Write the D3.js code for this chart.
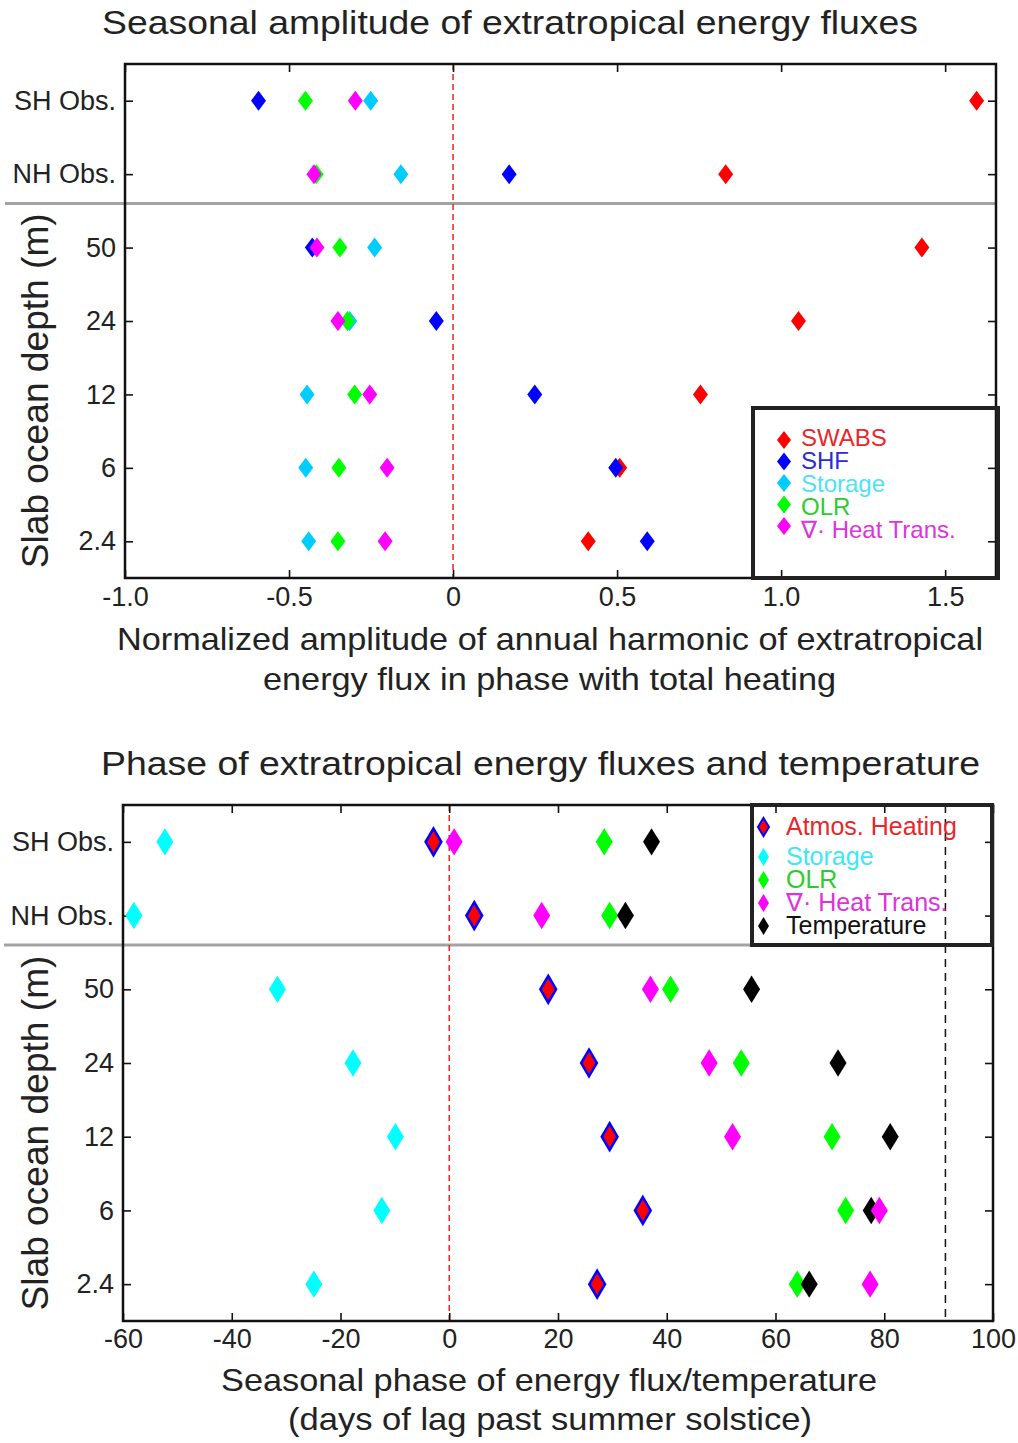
<!DOCTYPE html>
<html>
<head>
<meta charset="utf-8">
<script src="https://cdn.jsdelivr.net/npm/d3@7"></script>
<style>
  body { margin: 0; background: #fff; }
  text { font-family: "Liberation Sans", Arial, Helvetica, sans-serif; fill: #222; }
</style>
</head>
<body>
<script>
// rows, top to bottom (obs first, then slab ocean depths in m)
const rowLabels = ["SH Obs.", "NH Obs.", "50", "24", "12", "6", "2.4"];

// top panel: normalized amplitude of annual harmonic, in phase with total heating
const ampTicks = [-1.0, -0.5, 0, 0.5, 1.0, 1.5];
const ampSWABS = [1.596, 0.831, 1.429, 1.053, 0.754, 0.508, 0.412];
const ampSHF = [-0.593, 0.171, -0.429, -0.051, 0.249, 0.496, 0.592];
const ampStorage = [-0.251, -0.159, -0.239, -0.315, -0.445, -0.449, -0.440];
const ampOLR = [-0.450, -0.417, -0.345, -0.322, -0.300, -0.348, -0.351];
const ampHeatTrans = [-0.298, -0.424, -0.415, -0.351, -0.254, -0.201, -0.207];

// bottom panel: seasonal phase, days of lag past summer solstice
const phaseTicks = [-60, -40, -20, 0, 20, 40, 60, 80, 100];
const phaseAtmos = [-2.9, 4.6, 18.2, 25.7, 29.5, 35.6, 27.2];
const phaseStorage = [-52.3, -58.0, -31.6, -17.7, -9.9, -12.4, -24.9];
const phaseOLR = [28.5, 29.5, 40.7, 53.7, 70.4, 72.9, 64.0];
const phaseHeatTrans = [0.9, 17.0, 37.0, 47.8, 52.1, 79.1, 77.4];
const phaseTemp = [37.2, 32.4, 55.6, 71.5, 81.1, 77.6, 66.2];
const quarterYear = 91.25;

let diamond = (w, h) => `M0,${-h}L${w},0L0,${h}L${-w},0Z`;

// stretch/squeeze a text to a given width (the original lettering is wide)
let fitText = (sel, width) => sel.attr("textLength", width).attr("lengthAdjust", "spacingAndGlyphs");

let svg = d3.select("body").append("svg")
  .attr("width", 1018)
  .attr("height", 1443);

let drawPanel = p => {
  let x = d3.scaleLinear().domain(p.xDomain).range([p.left, p.right]);
  let y = d3.scaleLinear().domain([-0.5, rowLabels.length - 0.5]).range([p.top, p.bottom]);
  let g = svg.append("g");

  // title
  g.append("text")
    .attr("x", p.title.x).attr("y", p.title.y)
    .attr("text-anchor", "middle")
    .style("font-size", "34px")
    .text(p.title.text)
    .call(fitText, p.title.w);

  // obs / model separator
  g.append("line")
    .attr("x1", p.sepX[0]).attr("x2", p.sepX[1])
    .attr("y1", y(1.4)).attr("y2", y(1.4))
    .attr("stroke", "#a3a3a3").attr("stroke-width", 3);

  // reference lines
  g.append("line")
    .attr("x1", x(0)).attr("x2", x(0))
    .attr("y1", p.top).attr("y2", p.bottom)
    .attr("stroke", "#ee2222").attr("stroke-width", 1.5)
    .attr("stroke-dasharray", "6,4");
  (p.extraLines || []).forEach(v => {
    g.append("line")
      .attr("x1", x(v)).attr("x2", x(v))
      .attr("y1", p.top).attr("y2", p.bottom)
      .attr("stroke", "#111").attr("stroke-width", 1.5)
      .attr("stroke-dasharray", "8,6");
  });

  // axes, ticks pointing inward on all four sides
  let bottomAx = g.append("g")
    .attr("transform", `translate(0,${p.bottom})`)
    .call(d3.axisBottom(x).tickValues(p.ticks).tickFormat(p.tickFormat)
      .tickSizeInner(-8).tickSizeOuter(0).tickPadding(p.xPad));
  let topAx = g.append("g")
    .attr("transform", `translate(0,${p.top})`)
    .call(d3.axisTop(x).tickValues(p.ticks).tickFormat("")
      .tickSizeInner(-8).tickSizeOuter(0));
  let leftAx = g.append("g")
    .attr("transform", `translate(${p.left},0)`)
    .call(d3.axisLeft(y).tickValues(d3.range(rowLabels.length))
      .tickFormat(i => rowLabels[i]).tickSizeInner(-8).tickSizeOuter(0).tickPadding(p.yPad));
  let rightAx = g.append("g")
    .attr("transform", `translate(${p.right},0)`)
    .call(d3.axisRight(y).tickValues(d3.range(rowLabels.length)).tickFormat("")
      .tickSizeInner(-8).tickSizeOuter(0));
  [bottomAx, topAx, leftAx, rightAx].forEach(a => {
    a.select(".domain").remove();
    a.selectAll(".tick line").attr("stroke", "#111").attr("stroke-width", 1.6);
    a.selectAll("text").attr("fill", "#222").style("font-size", "27px")
      .style("font-family", '"Liberation Sans", Arial, sans-serif');
  });

  g.append("rect")
    .attr("x", p.left).attr("y", p.top)
    .attr("width", p.right - p.left).attr("height", p.bottom - p.top)
    .attr("fill", "none").attr("stroke", "#111").attr("stroke-width", 2.5);

  // y label
  g.append("text")
    .attr("transform", `translate(48,${(y(1.4) + p.bottom) / 2}) rotate(-90)`)
    .attr("text-anchor", "middle")
    .style("font-size", "37px")
    .text("Slab ocean depth (m)")
    .call(fitText, 355);

  // x label, two lines
  p.xLabel.forEach(l => {
    g.append("text")
      .attr("x", l.x).attr("y", l.y)
      .attr("text-anchor", "middle")
      .style("font-size", "32px")
      .text(l.text)
      .call(fitText, l.w);
  });

  // markers
  p.series.forEach(s => {
    g.append("g").selectAll("path")
      .data(s.values)
      .enter()
      .append("path")
      .attr("transform", (d, i) => `translate(${x(d)},${y(i)})`)
      .attr("d", diamond(s.w, s.h))
      .attr("fill", s.color)
      .attr("stroke", s.stroke || "none")
      .attr("stroke-width", s.stroke ? 2.6 : 0);
  });

  // legend
  let L = p.legend;
  g.append("rect")
    .attr("x", L.x).attr("y", L.y)
    .attr("width", L.w).attr("height", L.h)
    .attr("fill", "none").attr("stroke", "#222").attr("stroke-width", 4);
  L.items.forEach((it, i) => {
    let s = p.series.find(d => d.name === it);
    g.append("path")
      .attr("transform", `translate(${L.markX},${L.markY(i)})`)
      .attr("d", diamond(L.mw, L.mh))
      .attr("fill", s.color)
      .attr("stroke", s.stroke || "none")
      .attr("stroke-width", s.stroke ? 2 : 0);
    g.append("text")
      .attr("x", L.textX).attr("y", L.textY(i))
      .style("font-size", L.fontSize + "px")
      .style("fill", s.textColor)
      .text(s.label);
  });
};

// plain hyphen for negatives, as in the original
let ampFmt = d => d === 0 ? "0" : d.toFixed(1);
let phaseFmt = d => String(d);

drawPanel({
  xDomain: [-1, 1.655], left: 125, right: 996, top: 64, bottom: 578,
  ticks: ampTicks, tickFormat: ampFmt, xPad: 9, yPad: 9,
  sepX: [5, 996],
  title: { text: "Seasonal amplitude of extratropical energy fluxes", x: 510, y: 34, w: 816 },
  xLabel: [
    { text: "Normalized amplitude of annual harmonic of extratropical", x: 550, y: 650, w: 866 },
    { text: "energy flux in phase with total heating", x: 549.5, y: 690, w: 573 }
  ],
  series: [
    { name: "swabs", label: "SWABS", values: ampSWABS, color: "#ff0000", textColor: "#e8262b", w: 7.5, h: 10 },
    { name: "shf", label: "SHF", values: ampSHF, color: "#0000ff", textColor: "#2a2ad8", w: 7.5, h: 10 },
    { name: "storage", label: "Storage", values: ampStorage, color: "#00ccff", textColor: "#4de3f2", w: 7.5, h: 10 },
    { name: "olr", label: "OLR", values: ampOLR, color: "#00ff00", textColor: "#2ecb2e", w: 7.5, h: 10 },
    { name: "heat", label: "\u2207\u00b7 Heat Trans.", values: ampHeatTrans, color: "#ff00ff", textColor: "#dd33dd", w: 7.5, h: 10 }
  ],
  legend: {
    x: 753, y: 408, w: 245, h: 170,
    items: ["swabs", "shf", "storage", "olr", "heat"],
    markX: 784, markY: i => 440 + i * 21.5, mw: 7, mh: 9,
    textX: 801, textY: i => 446 + i * 23, fontSize: 24
  }
});

drawPanel({
  xDomain: [-60, 100], left: 123, right: 993, top: 805, bottom: 1321,
  ticks: phaseTicks, tickFormat: phaseFmt, xPad: 8, yPad: 9,
  sepX: [4, 752],
  extraLines: [quarterYear],
  title: { text: "Phase of extratropical energy fluxes and temperature", x: 540.5, y: 775, w: 879 },
  xLabel: [
    { text: "Seasonal phase of energy flux/temperature", x: 549, y: 1391, w: 656 },
    { text: "(days of lag past summer solstice)", x: 550, y: 1430, w: 524 }
  ],
  series: [
    { name: "atmos", label: "Atmos. Heating", values: phaseAtmos, color: "#ff0000", stroke: "#0000ff", textColor: "#e8262b", w: 7.8, h: 13.3 },
    { name: "storage", label: "Storage", values: phaseStorage, color: "#00ffff", textColor: "#40e8f0", w: 8.5, h: 13.7 },
    { name: "olr", label: "OLR", values: phaseOLR, color: "#00ff00", textColor: "#2ecb2e", w: 8.5, h: 13.7 },
    { name: "temp", label: "Temperature", values: phaseTemp, color: "#000000", textColor: "#111", w: 8.5, h: 13.7 },
    { name: "heat", label: "\u2207\u00b7 Heat Trans.", values: phaseHeatTrans, color: "#ff00ff", textColor: "#dd33dd", w: 8.5, h: 13.7 }
  ],
  legend: {
    x: 752, y: 805, w: 240, h: 140,
    items: ["atmos", "storage", "olr", "heat", "temp"],
    markX: 763.5, markY: i => i === 0 ? 827 : 857 + (i - 1) * 23, mw: 5.5, mh: 9,
    textX: 786, textY: i => i === 0 ? 835 : 865 + (i - 1) * 23, fontSize: 25
  }
});
</script>
</body>
</html>
